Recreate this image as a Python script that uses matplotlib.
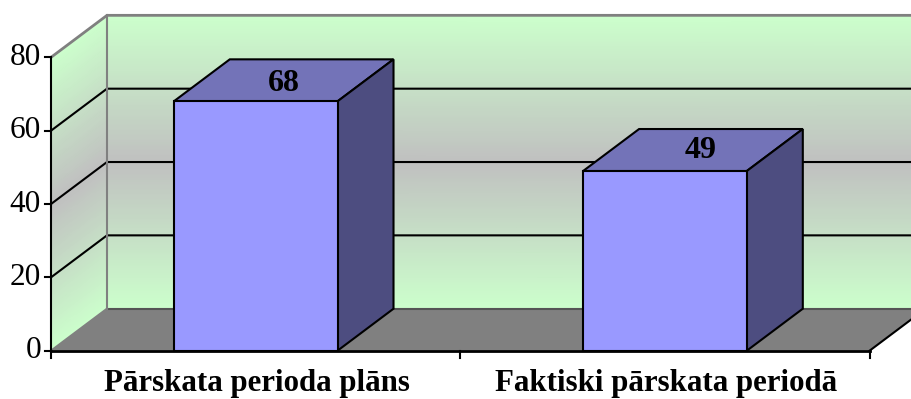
#!/usr/bin/python3
import numpy as np
import matplotlib
matplotlib.use("Agg")
import matplotlib.pyplot as plt
from matplotlib.colors import LinearSegmentedColormap
from matplotlib.patches import Polygon

categories = ["Pārskata perioda plāns", "Faktiski pārskata periodā"]
values = [68, 49]
y_ticks = [0, 20, 40, 60, 80]

# pixels per unit, depth offset of the 3d box (in data units)
PX_X = 409.3
PX_Y = 3.667
DEPTH_X = 56 / PX_X
DEPTH_Y = 42 / PX_Y
BAR_W = 0.4
Y_MAX = y_ticks[-1]

# the value labels do not sit exactly in the middle of the bar tops (px)
LABEL_SHIFT = [(0, -3), (8, 0)]

plt.rcParams['font.family'] = ['Liberation Serif', 'DejaVu Serif']

fig = plt.figure(figsize=(9.12, 3.99), dpi=100)
ax = fig.add_axes([0, 0, 1, 1])
ax.set_xlim(-51 / PX_X, (912 - 51) / PX_X)
ax.set_ylim(-48.3 / PX_Y, 350.7 / PX_Y)
ax.axis("off")

wall_cmap = LinearSegmentedColormap.from_list("wall", ["#CCFFCC", "#C0C0C0", "#CCFFCC"])
n = len(categories)

# gradient walls, colour follows the value so the side wall is sheared
levels = np.linspace(0, Y_MAX, 60)
shade = levels.reshape(-1, 1)

bx = np.array([0, n]) + DEPTH_X
X = np.tile(bx, (len(levels), 1))
Y = np.column_stack([levels, levels]) + DEPTH_Y
ax.pcolormesh(X, Y, np.hstack([shade, shade]), cmap=wall_cmap, shading="gouraud", zorder=1)

X = np.tile(np.array([0, DEPTH_X]), (len(levels), 1))
Y = np.column_stack([levels, levels + DEPTH_Y])
ax.pcolormesh(X, Y, np.hstack([shade, shade]), cmap=wall_cmap, shading="gouraud", zorder=1)

# floor
ax.add_patch(Polygon([(0, 0), (n, 0), (n + DEPTH_X, DEPTH_Y), (DEPTH_X, DEPTH_Y)],
                     facecolor="#808080", edgecolor="none", zorder=2))
ax.plot([n, n + DEPTH_X], [0, DEPTH_Y], color="black", lw=1.5, zorder=2, clip_on=True)
ax.plot([DEPTH_X, n + DEPTH_X], [DEPTH_Y, DEPTH_Y], color="#555555", lw=1.5, zorder=2)
ax.plot([0, DEPTH_X], [0, DEPTH_Y], color="#808080", lw=1.5, zorder=2)

# grid lines
for t in y_ticks[1:-1]:
    ax.plot([0, DEPTH_X, n + DEPTH_X], [t, t + DEPTH_Y, t + DEPTH_Y], color="black", lw=1.5, zorder=2)

# wall outline
ax.plot([0, DEPTH_X, n + DEPTH_X], [Y_MAX, Y_MAX + DEPTH_Y, Y_MAX + DEPTH_Y], color="#808080", lw=2, zorder=2)
ax.plot([DEPTH_X, DEPTH_X], [DEPTH_Y, Y_MAX + DEPTH_Y], color="#808080", lw=1.5, zorder=2)

# bars
for i, v in enumerate(values):
    x0 = i + 0.5 - BAR_W / 2
    x1 = i + 0.5 + BAR_W / 2
    ax.add_patch(Polygon([(x0, 0), (x1, 0), (x1, v), (x0, v)],
                         facecolor="#9999FF", edgecolor="black", lw=1.5, zorder=4))
    ax.add_patch(Polygon([(x0, v), (x1, v), (x1 + DEPTH_X, v + DEPTH_Y), (x0 + DEPTH_X, v + DEPTH_Y)],
                         facecolor="#7373B8", edgecolor="black", lw=1.5, zorder=3))
    ax.add_patch(Polygon([(x1, 0), (x1 + DEPTH_X, DEPTH_Y), (x1 + DEPTH_X, v + DEPTH_Y), (x1, v)],
                         facecolor="#4D4D80", edgecolor="black", lw=1.5, zorder=3))
    sx, sy = LABEL_SHIFT[i]
    ax.text(i + 0.5 + DEPTH_X / 2 + sx / PX_X, v + DEPTH_Y / 2 + sy / PX_Y, str(v), ha="center", va="center",
            fontsize=23, fontweight="bold", color="black", zorder=5)

# axes lines, ticks and labels
ax.plot([0, n], [0, 0], color="black", lw=2, zorder=6)
ax.plot([0, 0], [0, Y_MAX], color="black", lw=1.5, zorder=6)
for t in y_ticks:
    ax.plot([-6 / PX_X, 0], [t, t], color="black", lw=1.5, zorder=6)
    ax.text(-10 / PX_X, t, str(t), ha="right", va="center", fontsize=22.5, color="black")
for i in range(n + 1):
    ax.plot([i, i], [0, -7 / PX_Y], color="black", lw=1.5, zorder=6)
for i, c in enumerate(categories):
    ax.text(i + 0.5 + 1.5 / PX_X, -40.8 / PX_Y, c, ha="center", va="baseline", fontsize=22.2, fontweight="bold", color="black")

fig.savefig("out.png", dpi=100)
